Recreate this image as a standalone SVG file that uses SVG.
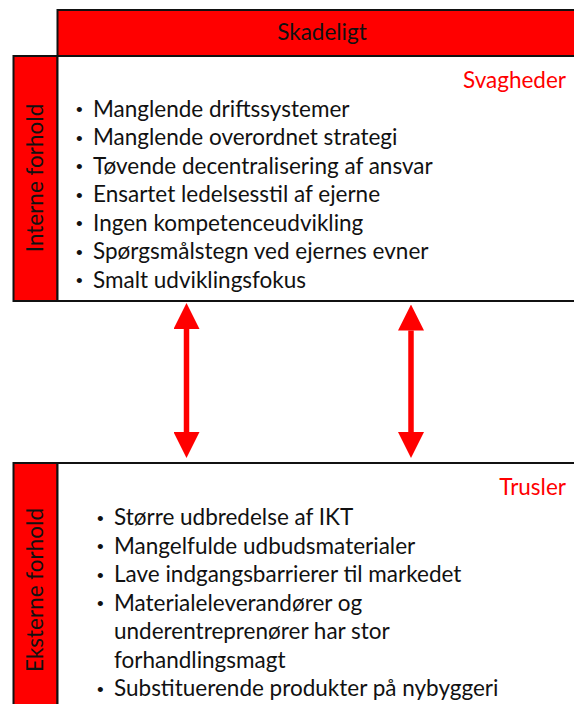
<svg xmlns="http://www.w3.org/2000/svg" width="574" height="704" viewBox="0 0 574 704">
  <style>
    .frame { stroke: #111; stroke-width: 2; }
    .band { fill: #ff0000; }
    .panel { fill: #ffffff; }
    .txt { font-family: Lato, "Liberation Sans", sans-serif; font-size: 22.5px; fill: #111; }
    .dot { font-family: "Liberation Sans", sans-serif; font-size: 19px; fill: #111; }
    .tag { font-family: Lato, "Liberation Sans", sans-serif; font-size: 22.5px; fill: #ff0000; }
    .arrow { stroke: #ff0000; stroke-width: 5.5; fill: none; }
  </style>
  <defs>
    <marker id="head" viewBox="0 0 10 10" refX="0" refY="5" markerWidth="26" markerHeight="26" markerUnits="userSpaceOnUse" orient="auto-start-reverse">
      <path d="M0,0 L10,5 L0,10 Z" fill="#ff0000"/>
    </marker>
  </defs>

  <!-- column header -->
  <g id="header-skadeligt">
    <rect class="frame band" x="57.5" y="10" width="530" height="46"/>
    <text class="txt" x="322" y="40" text-anchor="middle">Skadeligt</text>
  </g>

  <!-- internal factors: weaknesses -->
  <g id="row-interne">
    <rect class="frame band" x="13.5" y="56" width="44" height="245"/>
    <text class="txt" transform="translate(43,178) rotate(-90)" text-anchor="middle">Interne forhold</text>
  </g>
  <g id="svagheder">
    <rect class="frame panel" x="57.5" y="56" width="530" height="245"/>
    <text class="tag" x="566" y="88" text-anchor="end">Svagheder</text>
    <g class="dot">
      <text x="76" y="116">•</text>
      <text x="76" y="144.5">•</text>
      <text x="76" y="173">•</text>
      <text x="76" y="201.5">•</text>
      <text x="76" y="230">•</text>
      <text x="76" y="258.5">•</text>
      <text x="76" y="287">•</text>
    </g>
    <g class="txt">
      <text x="93" y="116.5">Manglende driftssystemer</text>
      <text x="93" y="145">Manglende overordnet strategi</text>
      <text x="93" y="173.5">Tøvende decentralisering af ansvar</text>
      <text x="93" y="202">Ensartet ledelsesstil af ejerne</text>
      <text x="93" y="230.5">Ingen kompetenceudvikling</text>
      <text x="93" y="259">Spørgsmålstegn ved ejernes evner</text>
      <text x="93" y="287.5">Smalt udviklingsfokus</text>
    </g>
  </g>

  <!-- external factors: threats -->
  <g id="row-eksterne">
    <rect class="frame band" x="13.5" y="463" width="44" height="260"/>
    <text class="txt" transform="translate(43,590) rotate(-90)" text-anchor="middle">Eksterne forhold</text>
  </g>
  <g id="trusler">
    <rect class="frame panel" x="57.5" y="463" width="530" height="260"/>
    <text class="tag" x="566" y="495" text-anchor="end">Trusler</text>
    <g class="dot">
      <text x="97" y="524.5">•</text>
      <text x="97" y="553">•</text>
      <text x="97" y="581.5">•</text>
      <text x="97" y="610">•</text>
      <text x="97" y="695.5">•</text>
    </g>
    <g class="txt">
      <text x="114" y="525">Større udbredelse af IKT</text>
      <text x="114" y="553.5">Mangelfulde udbudsmaterialer</text>
      <text x="114" y="582">Lave indgangsbarrierer til markedet</text>
      <text x="114" y="610.5">Materialeleverandører og</text>
      <text x="114" y="639">underentreprenører har stor</text>
      <text x="114" y="667.5">forhandlingsmagt</text>
      <text x="114" y="696">Substituerende produkter på nybyggeri</text>
    </g>
  </g>

  <!-- connectors -->
  <g id="connectors">
    <line class="arrow" x1="186.5" y1="329" x2="186.5" y2="432" marker-start="url(#head)" marker-end="url(#head)"/>
    <line class="arrow" x1="411" y1="330.5" x2="411" y2="432" marker-start="url(#head)" marker-end="url(#head)"/>
  </g>
</svg>
